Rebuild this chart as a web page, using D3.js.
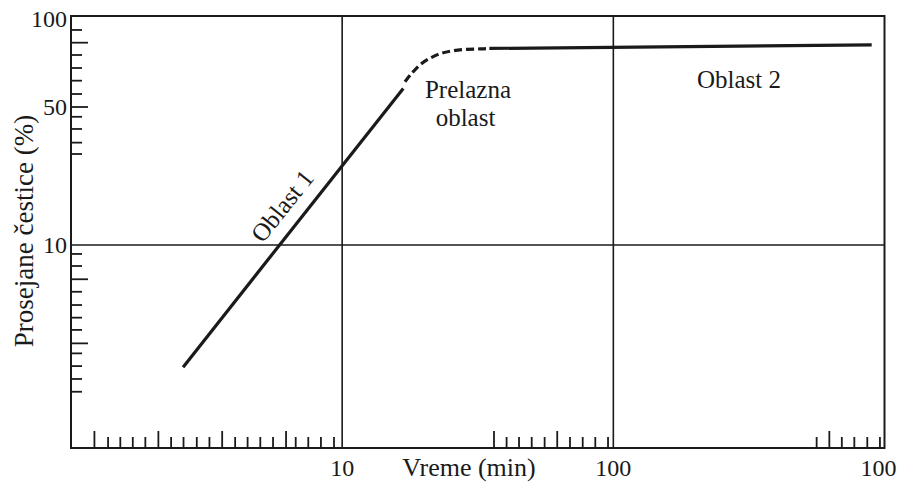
<!DOCTYPE html>
<html>
<head>
<meta charset="utf-8">
<script src="https://cdn.jsdelivr.net/npm/d3@7.9.0/dist/d3.min.js"></script>
<style>
  html, body { margin: 0; padding: 0; background: #fff; }
  svg text { font-family: "Liberation Serif", "Times New Roman", serif; fill: #1a1a1a; }
</style>
</head>
<body>
<svg width="898" height="484"></svg>
<script>
// chart values (time in min, sieved particles in %)
const xLabels = [10, 100, 1000];
const xLabelText = ['10', '100', '100']; // last one is cut to "100" in the picture
const yLabels = [100, 50, 10];
const xGrid = [10, 100];
const yGrid = [10];

// decorative minor ticks along the bottom and left edges
const xTicksShort = [1.37, 1.52, 1.69, 1.88, 2.34, 2.60, 2.91, 3.24, 4.03, 4.48, 4.99, 5.56,
  6.74, 7.50, 8.35, 9.33, 40.4, 44.9, 50.0, 55.8, 69.2, 77.1, 85.8, 95.6, 562, 696, 774, 864, 962];
const xTicksLong = [1.22, 2.10, 3.61, 6.21, 36.3, 62.1, 626];
const yTicksShort = [89.9, 74.3, 67.3, 61.1, 55.2, 44.6, 38.7, 33.0, 28.9,
  9.01, 7.83, 5.80, 4.97, 4.29, 3.72, 2.83, 2.44, 2.10, 1.81];
const yTicksLong = [81.6, 50, 6.71, 3.18];

// curve: region 1 (straight), transition (dashed), region 2 (plateau)
const region1Time = [2.59, 16.8];
const region1Pct = [2.41, 57.6];
const transTime = [17.05, 18.05, 19.65, 21.4, 23.3, 25.7, 28.8, 32.2, 34.9];
const transPct = [60.6, 64.6, 69.7, 73.0, 75.3, 76.8, 77.6, 77.8, 78.1];
const region2Time = [34.9, 897];
const region2Pct = [78.1, 80.2];

const svg = d3.select('svg');
const ink = '#1a1a1a';

// scales
let x = d3.scaleLog().domain([1, 1000]).range([71, 884.5]);
let y = d3.scaleLog().domain([0.94, 10, 50, 100]).range([448, 245, 107, 16]);

const [x0, x1] = x.range();
const y0 = y(0.94), y1 = y(100);

// frame
svg.append('rect')
  .attr('x', x0).attr('y', y1)
  .attr('width', x1 - x0).attr('height', y0 - y1)
  .attr('fill', 'none').attr('stroke', ink).attr('stroke-width', 2);

// grid lines
svg.selectAll('.vgrid').data(xGrid).join('line')
  .attr('x1', d => x(d)).attr('x2', d => x(d))
  .attr('y1', y1).attr('y2', y0)
  .attr('stroke', ink).attr('stroke-width', 1.6);
svg.selectAll('.hgrid').data(yGrid).join('line')
  .attr('x1', x0).attr('x2', x1)
  .attr('y1', d => y(d)).attr('y2', d => y(d))
  .attr('stroke', ink).attr('stroke-width', 1.6);

// bottom ticks
function bottomTicks(vals, len) {
  svg.append('g').selectAll('line').data(vals).join('line')
    .attr('x1', d => x(d)).attr('x2', d => x(d))
    .attr('y1', y0).attr('y2', y0 - len)
    .attr('stroke', ink).attr('stroke-width', 1.8);
}
bottomTicks(xTicksShort, 11);
bottomTicks(xTicksLong, 17);

// left ticks
function leftTicks(vals, len) {
  svg.append('g').selectAll('line').data(vals).join('line')
    .attr('x1', x0).attr('x2', x0 + len)
    .attr('y1', d => y(d)).attr('y2', d => y(d))
    .attr('stroke', ink).attr('stroke-width', 1.8);
}
leftTicks(yTicksShort, 11);
leftTicks(yTicksLong, 17);

// tick labels
svg.append('g').selectAll('text').data(yLabels).join('text')
  .attr('x', x0 - 4)
  .attr('y', d => Math.max(y(d), 19))
  .attr('dy', '0.35em')
  .attr('text-anchor', 'end')
  .attr('font-size', 24)
  .text(d => d);

svg.append('g').selectAll('text').data(xLabels).join('text')
  .attr('x', (d, i) => i === xLabels.length - 1 ? x(d) - 6 : x(d))
  .attr('y', 476)
  .attr('text-anchor', 'middle')
  .attr('font-size', 24)
  .text((d, i) => xLabelText[i]);

// axis titles
svg.append('text')
  .attr('x', 469).attr('y', 476)
  .attr('text-anchor', 'middle')
  .attr('font-size', 26)
  .text('Vreme (min)');

svg.append('text')
  .attr('transform', 'translate(33,231) rotate(-90)')
  .attr('text-anchor', 'middle')
  .attr('font-size', 27)
  .text('Prosejane čestice (%)');

// curve
const line = d3.line().x(d => x(d[0])).y(d => y(d[1]));
const lineSmooth = d3.line().x(d => x(d[0])).y(d => y(d[1])).curve(d3.curveCatmullRom);

svg.append('path')
  .attr('d', line(d3.zip(region1Time, region1Pct)))
  .attr('fill', 'none').attr('stroke', ink).attr('stroke-width', 3.2);

svg.append('path')
  .attr('d', lineSmooth(d3.zip(transTime, transPct)))
  .attr('fill', 'none').attr('stroke', ink).attr('stroke-width', 3.2)
  .attr('stroke-dasharray', '8,4');

svg.append('path')
  .attr('d', line(d3.zip(region2Time, region2Pct)))
  .attr('fill', 'none').attr('stroke', ink).attr('stroke-width', 3.2);

// region annotations
svg.append('text')
  .attr('transform', `translate(${x(6.0)},${y(15.8)}) rotate(-51.5)`)
  .attr('text-anchor', 'middle')
  .attr('dy', '0.35em')
  .attr('font-size', 25)
  .text('Oblast 1');

svg.append('text')
  .attr('x', x(29.1)).attr('y', y(53.5))
  .attr('text-anchor', 'middle')
  .attr('font-size', 25)
  .text('Prelazna')
  .append('tspan')
  .attr('x', x(28.5)).attr('dy', 28)
  .text('oblast');

svg.append('text')
  .attr('x', x(290.7)).attr('y', y(57.8))
  .attr('text-anchor', 'middle')
  .attr('font-size', 25)
  .text('Oblast 2');
</script>
</body>
</html>
